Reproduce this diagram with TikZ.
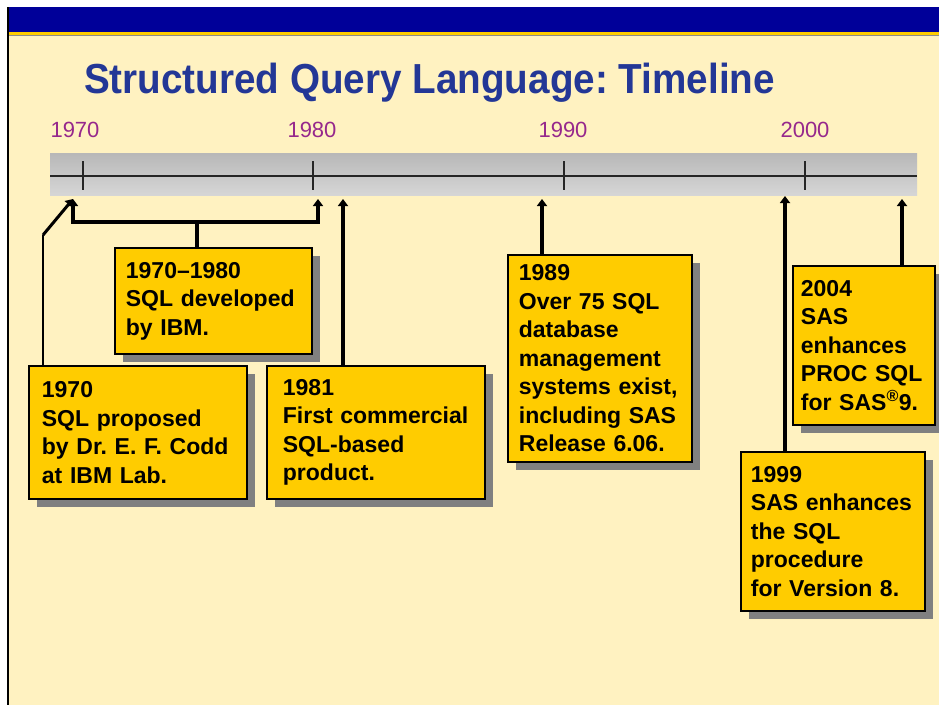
\documentclass[tikz,border=0pt]{standalone}
\usepackage{fontspec}
\setmainfont{Liberation Sans}
\newfontfamily\titlefont{Liberation Sans}[FakeStretch=0.92]
\usetikzlibrary{positioning, arrows.meta, calc, shadows}
\frenchspacing

\definecolor{pagebg}{RGB}{255,242,193}
\definecolor{headblue}{RGB}{0,0,153}
\definecolor{headgold}{RGB}{255,204,0}
\definecolor{titleblue}{RGB}{35,55,150}
\definecolor{yearpurple}{RGB}{150,40,140}
\definecolor{boxgold}{RGB}{255,204,0}

\begin{document}
\begin{tikzpicture}[
    x=1pt, y=-1pt,
    % Event boxes - gold with grey drop shadow
    eventbox/.style={
        draw=black, line width=1.8pt, fill=boxgold, anchor=north west,
        align=left, inner xsep=11pt, inner ysep=0pt,
        font=\frenchspacing\fontsize{23}{28.5}\selectfont\bfseries,
        drop shadow={shadow xshift=8pt, shadow yshift=-8pt, fill=black!50, opacity=1}
    },
    % Year labels above the bar
    yearlabel/.style={font=\fontsize{22}{26}\selectfont, text=yearpurple, inner sep=0pt},
    % Timeline and connectors
    tickline/.style={line width=1.8pt, black!85},
    arrow/.style={line width=3.5pt, -{Triangle[width=10pt,length=7pt]}},
    stemline/.style={line width=3.5pt},
]

\useasboundingbox (0,0) rectangle (939,705);

% ============================================================
% SLIDE FRAME
% ============================================================
\fill[white] (0,0) rectangle (939,705);
\fill[pagebg] (8,35) rectangle (939,705);
\fill[headblue] (7,7) rectangle (939,32);
\fill[headgold] (7,32) rectangle (939,34.5);
\draw[black!45, line width=0.8pt] (7,35.2) -- (939,35.2);
\draw[black, line width=2.2pt] (8,7) -- (8,705);

% --- Title ---
\node[font=\titlefont\bfseries\fontsize{42}{48}\selectfont, text=titleblue,
      anchor=base west, inner sep=0pt] (title) at (84,93)
      {Structured Query Language: Timeline};

% ============================================================
% TIMELINE BAR
% ============================================================
\shade[top color=black!28, bottom color=black!16] (50,153) rectangle (917,195);
\draw[line width=1.8pt, black!85] (50,176) -- (917,176);
\foreach \tx in {83,313,564,805}
    \draw[tickline] (\tx,161) -- (\tx,190);

\node[yearlabel] (y1970) at (75,130) {1970};
\node[yearlabel] (y1980) at (312,130) {1980};
\node[yearlabel] (y1990) at (563,130) {1990};
\node[yearlabel] (y2000) at (805,130) {2000};

% arrow targets under the bar
\coordinate (a70) at (73,199);
\coordinate (a80) at (318,199);
\coordinate (a81) at (343,199);
\coordinate (a89) at (542,199);
\coordinate (a99) at (785,196);
\coordinate (a04) at (902,199);
\coordinate (brk) at (197,222);
\coordinate (bend) at (43,235);

% ============================================================
% EVENT BOXES
% ============================================================
\node[eventbox, minimum width=197pt, minimum height=106pt, text width=175pt]
    (ibmdev) at (114,247) {1970–1980\\SQL developed\\by IBM.};

\node[eventbox, minimum width=218pt, minimum height=133pt, inner xsep=13pt, text width=192pt]
    (codd) at (28,365) {1970\\SQL proposed\\by Dr. E. F. Codd\\at IBM Lab.};

\node[eventbox, minimum width=218pt, minimum height=133pt, inner xsep=16pt, text width=186pt]
    (first) at (266,365) {1981\\First commercial\\SQL-based\\product.};

\node[eventbox, minimum width=184pt, minimum height=207pt, text width=162pt]
    (dbms) at (507,254) {1989\\Over 75 SQL\\database\\management\\systems exist,\\including SAS\\Release 6.06.};

\node[eventbox, minimum width=142pt, minimum height=159pt, inner xsep=8pt, text width=126pt]
    (sas9) at (792,265) {2004\\SAS\\enhances\\PROC SQL\\for SAS\textsuperscript{\textregistered}9.};

\node[eventbox, minimum width=184pt, minimum height=159pt, inner xsep=10pt, text width=164pt]
    (sasv8) at (740,451) {1999\\SAS enhances\\the SQL\\procedure\\for Version 8.};

% ============================================================
% CONNECTORS
% ============================================================

% 1970: up the left side, then diagonal to the bar
\draw[line width=2pt] (codd.north west -| bend) -- (bend);
\draw[arrow, line width=3pt] (bend) -- (a70);

% 1970-1980 bracket
\draw[stemline] (ibmdev.north -| brk) -- (brk);
\draw[arrow] (brk) -| (a70);
\draw[arrow] (brk) -| (a80);

% single events
\draw[arrow] (first.north -| a81) -- (a81);
\draw[arrow] (dbms.north -| a89) -- (a89);
\draw[arrow] (sasv8.north -| a99) -- (a99);
\draw[arrow] (sas9.north -| a04) -- (a04);

\end{tikzpicture}
\end{document}
